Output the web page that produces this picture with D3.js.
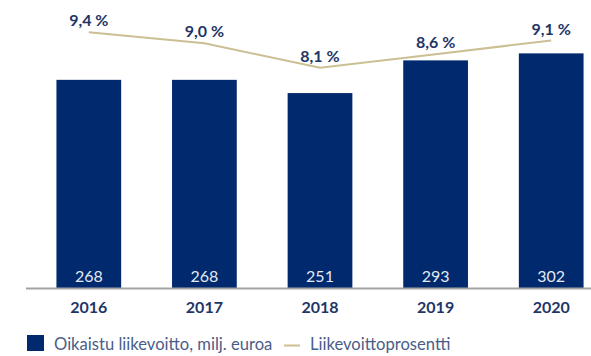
<!DOCTYPE html>
<html>
<head>
<meta charset="utf-8">
<script src="https://cdn.jsdelivr.net/npm/d3@7"></script>
<style>
  html, body { margin: 0; padding: 0; background: #fff; }
  svg { display: block; font-family: Lato, "Noto Sans", sans-serif; }
</style>
</head>
<body>
<svg id="chart" width="591" height="356"></svg>
<script>
// Adjusted operating profit (MEUR) and operating margin (%) by year
const years = ["2016", "2017", "2018", "2019", "2020"];
const profit = [268, 268, 251, 293, 302];
const margin = [9.4, 9.0, 8.1, 8.6, 9.1];
const marginLabels = ["9,4 %", "9,0 %", "8,1 %", "8,6 %", "9,1 %"];
const legendLabels = ["Oikaistu liikevoitto, milj. euroa", "Liikevoittoprosentti"];

const W = 591, H = 356;
const plotTop = 16, plotBottom = 288.5;
const barColor = "#002a6d";
const lineColor = "#cbbf93";
const navyText = "#1e3566";

const svg = d3.select("#chart");

const x = d3.scaleBand()
  .domain(years)
  .range([31, 609])
  .paddingInner(0.44)
  .paddingOuter(0.22);

const y = d3.scaleLinear().domain([0, 350]).range([plotBottom, plotTop]);
const y2 = d3.scaleLinear().domain([0, 10]).range([plotBottom, plotTop]);

// Bars
svg.append("g")
  .selectAll("rect")
  .data(profit)
  .join("rect")
  .attr("x", (d, i) => x(years[i]))
  .attr("y", d => y(d))
  .attr("width", x.bandwidth())
  .attr("height", d => y(0) - y(d))
  .attr("fill", barColor);

// Value labels inside bars
svg.append("g")
  .selectAll("text")
  .data(profit)
  .join("text")
  .attr("x", (d, i) => x(years[i]) + x.bandwidth() / 2)
  .attr("y", y(0) - 7)
  .attr("text-anchor", "middle")
  .attr("font-size", 16)
  .attr("fill", "#e4e9f2")
  .text(d => d);

// Baseline axis
const axis = d3.axisBottom(x).tickSize(0).tickPadding(13);
const gx = svg.append("g")
  .attr("transform", `translate(0,${y(0)})`)
  .call(axis);
gx.select(".domain").remove();
gx.append("line")
  .attr("x1", x.range()[0] - 5)
  .attr("x2", W)
  .attr("stroke", "#a3a3a3")
  .attr("stroke-width", 2);
gx.selectAll(".tick text")
  .attr("font-family", "Lato, sans-serif")
  .attr("font-size", 16)
  .attr("font-weight", 700)
  .attr("fill", navyText);

// Margin line
const line = d3.line()
  .x((d, i) => x(years[i]) + x.bandwidth() / 2)
  .y(d => y2(d));
svg.append("path")
  .datum(margin)
  .attr("d", line)
  .attr("fill", "none")
  .attr("stroke", lineColor)
  .attr("stroke-width", 2);

// Margin labels
svg.append("g")
  .selectAll("text")
  .data(margin)
  .join("text")
  .attr("x", (d, i) => x(years[i]) + x.bandwidth() / 2)
  .attr("y", d => y2(d) - 6)
  .attr("text-anchor", "middle")
  .attr("font-size", 16)
  .attr("font-weight", 700)
  .attr("fill", navyText)
  .text((d, i) => marginLabels[i]);

// Legend
const lg = svg.append("g").attr("transform", "translate(27,335)");
lg.append("rect")
  .attr("width", 17).attr("height", 16)
  .attr("fill", barColor);
lg.append("text")
  .attr("x", 27).attr("y", 15)
  .attr("font-size", 16.6)
  .attr("fill", "#4a5d88")
  .text(legendLabels[0]);
lg.append("line")
  .attr("x1", 257).attr("x2", 273)
  .attr("y1", 10.5).attr("y2", 10.5)
  .attr("stroke", lineColor)
  .attr("stroke-width", 2);
lg.append("text")
  .attr("x", 283).attr("y", 15)
  .attr("font-size", 16.6)
  .attr("fill", "#4a5d88")
  .text(legendLabels[1]);
</script>
</body>
</html>
